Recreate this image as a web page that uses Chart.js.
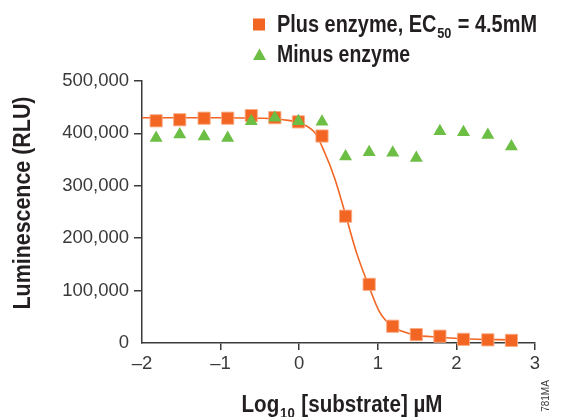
<!DOCTYPE html>
<html>
<head>
<meta charset="utf-8">
<script src="https://cdn.jsdelivr.net/npm/chart.js@4.4.1/dist/chart.umd.min.js"></script>
<style>
  html, body { margin: 0; padding: 0; background: #fff; }
  #wrap { width: 565px; height: 417px; position: relative; }
</style>
</head>
<body>
<div id="wrap"><canvas id="chart"></canvas></div>
<script>
// log10 of substrate concentration (µM), 2-fold dilutions
const logConc = [-1.82, -1.52, -1.21, -0.91, -0.61, -0.31, -0.01, 0.29, 0.59, 0.89, 1.19, 1.49, 1.79, 2.09, 2.40, 2.70]

// luminescence (RLU)
const plusEnzyme = [424000, 426000, 429000, 429000, 434000, 430000, 422000, 395000, 242000, 112000, 32000, 16000, 13000, 7000, 6000, 5000]
const minusEnzyme = [391000, 398000, 394000, 391000, 423000, 430000, 423000, 422000, 356000, 364000, 363000, 353000, 404000, 402000, 397000, 375000]

// fitted dose-response curve
const fitX = [-2.0, -1.0, -0.5, -0.2, 0.0, 0.2, 0.32, 0.45, 0.58, 0.73, 0.88, 1.02, 1.18, 1.32, 1.48, 1.79, 2.08, 2.75]
const fitY = [430000, 430000, 429000, 426000, 420000, 401000, 365000, 315000, 250000, 172000, 111000, 60000, 32000, 22000, 15000, 11000, 8000, 6000]

const xTicks = [-2, -1, 0, 1, 2, 3]

const colors = {
	orange: '#f26522',
	orangeEdge: 'rgba(250,170,130,0.9)',
	green: '#6cbe45',
	axis: '#3a3a3a',
	text: '#3a3a3a',
	title: '#231f20'
}

const boldFont = (size) => 'bold ' + size + "px 'Liberation Sans', sans-serif"

// bold text squeezed sideways to look like a condensed face.
// parts: [text, sub, text, ...]; odd entries are subscripts
function condensedText(ctx, parts, x, y, size, width, align) {
	const subSize = Math.round(size * 0.62)
	let natural = 0
	parts.forEach((p, i) => {
		ctx.font = boldFont(i % 2 ? subSize : size)
		natural += ctx.measureText(p).width + (i % 2 ? 2 : 0)
	})
	const k = width / natural
	ctx.save()
	ctx.translate(align === 'center' ? x - width / 2 : x, y)
	ctx.scale(k, 1)
	ctx.textAlign = 'left'
	let cx = 0
	parts.forEach((p, i) => {
		const sub = i % 2 === 1
		ctx.font = boldFont(sub ? subSize : size)
		ctx.fillText(p, cx + (sub ? 1 : 0), sub ? size * 0.27 : 0)
		cx += ctx.measureText(p).width + (sub ? 2 : 0)
	})
	ctx.restore()
}

const labelsPlugin = {
	id: 'labels',
	afterDraw(chart) {
		const ctx = chart.ctx
		ctx.save()
		ctx.textBaseline = 'alphabetic'

		// legend
		ctx.fillStyle = colors.orange
		ctx.fillRect(253, 18.5, 12, 12)
		ctx.fillStyle = colors.green
		ctx.beginPath()
		ctx.moveTo(259.5, 48.5)
		ctx.lineTo(266, 60)
		ctx.lineTo(253, 60)
		ctx.closePath()
		ctx.fill()

		ctx.fillStyle = colors.title
		condensedText(ctx, ['Plus enzyme, EC', '50', ' = 4.5mM'], 277, 31.5, 23.5, 260)
		condensedText(ctx, ['Minus enzyme'], 277, 61.5, 23.5, 133)

		// x axis title
		condensedText(ctx, ['Log', '10', ' [substrate] \u00b5M'], 342, 411.5, 23.5, 201, 'center')

		// y axis title
		ctx.translate(30, 203)
		ctx.rotate(-Math.PI / 2)
		condensedText(ctx, ['Luminescence (RLU)'], 0, 0, 23.5, 213, 'center')
		ctx.restore()

		// figure code
		ctx.save()
		ctx.translate(549, 396)
		ctx.rotate(-Math.PI / 2)
		ctx.textAlign = 'center'
		ctx.fillStyle = colors.text
		ctx.font = "10px 'Liberation Sans', sans-serif"
		ctx.fillText('781MA', 0, 0)
		ctx.restore()
	}
}

const chart = new Chart('chart', {
	type: 'scatter',
	data: {
		datasets: [
			{
				label: 'Minus enzyme',
				data: logConc.map((x, i) => ({ x: x, y: minusEnzyme[i] })),
				pointStyle: 'triangle',
				pointRadius: 7.5,
				backgroundColor: colors.green,
				borderColor: colors.green,
				borderWidth: 0,
				clip: false
			},
			{
				label: 'Plus enzyme',
				data: logConc.map((x, i) => ({ x: x, y: plusEnzyme[i] })),
				pointStyle: 'rect',
				pointRadius: 8.6,
				backgroundColor: colors.orange,
				borderColor: colors.orangeEdge,
				borderWidth: 1,
				clip: false
			},
			{
				label: 'fit',
				data: fitX.map((x, i) => ({ x: x, y: fitY[i] })),
				showLine: true,
				pointRadius: 0,
				borderColor: colors.orange,
				borderWidth: 1.6,
				cubicInterpolationMode: 'monotone',
				clip: false
			}
		]
	},
	options: {
		responsive: true,
		maintainAspectRatio: false,
		animation: false,
		events: [],
		layout: { padding: { top: 81, right: 30, left: 0, bottom: 0 } },
		plugins: { legend: { display: false }, tooltip: { enabled: false } },
		scales: {
			x: {
				type: 'linear',
				min: -2,
				max: 3,
				afterFit: (scale) => { scale.height = 74 },
				afterBuildTicks: (scale) => { scale.ticks = xTicks.map(v => ({ value: v })) },
				border: { color: colors.axis, width: 1.5 },
				grid: {
					drawOnChartArea: false,
					tickLength: 7,
					lineWidth: 1.5,
					color: (c) => (c.tick && c.tick.value === -2) ? 'rgba(0,0,0,0)' : colors.axis
				},
				ticks: {
					padding: 3,
					color: colors.text,
					font: { family: "'Liberation Sans', sans-serif", size: 18.5 },
					callback: (v) => v < 0 ? '\u2013' + Math.abs(v) : '' + v
				}
			},
			y: {
				min: 0,
				max: 500000,
				afterFit: (scale) => { scale.width = 142 },
				border: { color: colors.axis, width: 1.5 },
				grid: {
					drawOnChartArea: false,
					tickLength: 8,
					lineWidth: 1.5,
					color: (c) => (c.tick && c.tick.value === 0) ? 'rgba(0,0,0,0)' : colors.axis
				},
				ticks: {
					stepSize: 100000,
					padding: 5,
					color: colors.text,
					font: { family: "'Liberation Sans', sans-serif", size: 18.5 },
					callback: (v) => v.toLocaleString('en-US')
				}
			}
		}
	},
	plugins: [labelsPlugin]
})
</script>
</body>
</html>
